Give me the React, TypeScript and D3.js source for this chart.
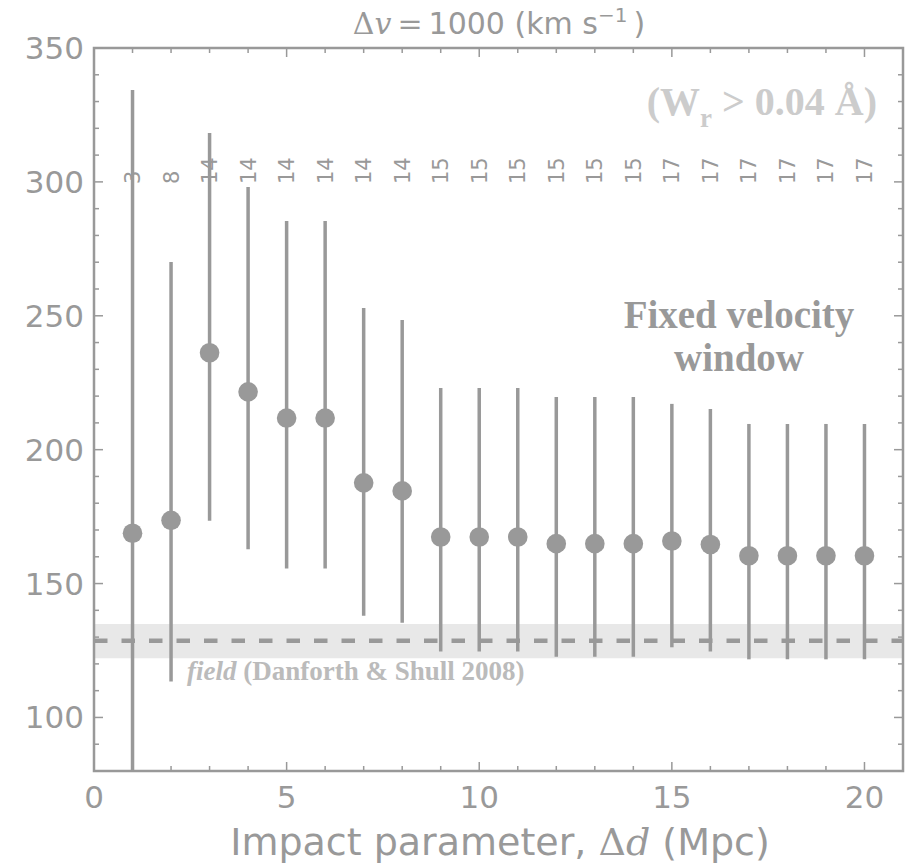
import React from "react";
import * as d3 from "d3";

const impactParam = [1, 2, 3, 4, 5, 6, 7, 8, 9, 10, 11, 12, 13, 14, 15, 16, 17, 18, 19, 20];
const meanValue = [168.8, 173.6, 236.2, 221.6, 211.8, 211.8, 187.6, 184.6, 167.4, 167.4, 167.4, 164.9, 164.9, 164.9, 165.9, 164.6, 160.4, 160.4, 160.4, 160.4];
const lowerValue = [40, 113.4, 173.5, 162.8, 155.6, 155.6, 138, 135.4, 124.6, 124.6, 124.6, 122.7, 122.7, 122.7, 126.2, 124.6, 121.7, 121.7, 121.7, 121.7];
const upperValue = [334.3, 270.1, 318.3, 298.1, 285.4, 285.4, 252.9, 248.4, 223.0, 223.0, 223.0, 219.7, 219.7, 219.7, 217.1, 215.2, 209.6, 209.6, 209.6, 209.6];
const countLabels = ["3", "8", "14", "14", "14", "14", "14", "14", "15", "15", "15", "15", "15", "15", "17", "17", "17", "17", "17", "17"];
const fieldMean = 128.6;
const fieldLow = 122.1;
const fieldHigh = 134.9;
const xTicks = [0, 5, 10, 15, 20];
const yTicks = [100, 150, 200, 250, 300, 350];

const L = 94, T = 48, R = 903, B = 771;
const GRAY = "#999999";

export default function App() {
  const x = d3.scaleLinear().domain([0, 21]).range([L, R]);
  const y = d3.scaleLinear().domain([80, 350]).range([B, T]);
  const xMinor = d3.range(0, 22, 1);
  const yMinor = d3.range(80, 351, 10);
  const sans = "'DejaVu Sans', sans-serif";
  const serif = "'Liberation Serif', 'Times New Roman', serif";

  return (
    <svg width={912} height={864} style={{ position: "absolute", left: 0, top: 0, background: "#fff" }}>
      <defs>
        <clipPath id="plotclip">
          <rect x={L} y={T} width={R - L} height={B - T} />
        </clipPath>
      </defs>
      <g clipPath="url(#plotclip)">
        <rect x={L} y={y(fieldHigh)} width={R - L} height={y(fieldLow) - y(fieldHigh)} fill="#e8e8e8" />
        <line x1={L} x2={R} y1={y(fieldMean)} y2={y(fieldMean)} stroke={GRAY} strokeWidth={4.5} strokeDasharray="13.5,14" />
        {impactParam.map((d, i) => (
          <line key={"e" + i} x1={x(d)} x2={x(d)} y1={y(lowerValue[i])} y2={y(upperValue[i])} stroke={GRAY} strokeWidth={3.5} />
        ))}
        {impactParam.map((d, i) => (
          <circle key={"c" + i} cx={x(d)} cy={y(meanValue[i])} r={9.8} fill={GRAY} />
        ))}
      </g>
      {impactParam.map((d, i) => (
        <text key={"n" + i} transform={`translate(${x(d) + 7.5},184) rotate(-90)`} fontFamily={sans} fontSize={21} fill={GRAY}>
          {countLabels[i]}
        </text>
      ))}
      {/* frame */}
      <rect x={L} y={T} width={R - L} height={B - T} fill="none" stroke={GRAY} strokeWidth={2.5} />
      {xMinor.map((v) => {
        const major = v % 5 === 0;
        const len = major ? 9 : 5;
        return (
          <g key={"xt" + v}>
            <line x1={x(v)} x2={x(v)} y1={B} y2={B - len} stroke={GRAY} strokeWidth={1.5} />
            <line x1={x(v)} x2={x(v)} y1={T} y2={T + len} stroke={GRAY} strokeWidth={1.5} />
          </g>
        );
      })}
      {yMinor.map((v) => {
        const major = v % 50 === 0;
        const len = major ? 9 : 5;
        return (
          <g key={"yt" + v}>
            <line x1={L} x2={L + len} y1={y(v)} y2={y(v)} stroke={GRAY} strokeWidth={1.5} />
            <line x1={R} x2={R - len} y1={y(v)} y2={y(v)} stroke={GRAY} strokeWidth={1.5} />
          </g>
        );
      })}
      {xTicks.map((v) => (
        <text key={"xl" + v} x={x(v)} y={808} textAnchor="middle" fontFamily={sans} fontSize={31} fill={GRAY}>
          {v}
        </text>
      ))}
      {yTicks.map((v) => (
        <text key={"yl" + v} x={84} y={y(v) + 11} textAnchor="end" fontFamily={sans} fontSize={31} fill={GRAY}>
          {v}
        </text>
      ))}
      {/* title */}
      <text x={499} y={34} textAnchor="middle" fontFamily={sans} fontSize={30} fill={GRAY}>
        <tspan fontFamily="'DejaVu Serif', serif">Δ</tspan>
        <tspan fontFamily="'DejaVu Serif', serif" fontStyle="italic">v</tspan>
        <tspan fontFamily="'DejaVu Serif', serif">{"\u2009=\u2009"}</tspan>
        <tspan>1000 (km s</tspan>
        <tspan dy={-12} fontSize={20}>−1</tspan>
        <tspan dy={12}>{"\u2009)"}</tspan>
      </text>
      {/* x label */}
      <text x={500} y={855} textAnchor="middle" fontFamily={sans} fontSize={38} fill={GRAY}>
        <tspan>Impact parameter, </tspan>
        <tspan fontFamily="'DejaVu Serif', serif">Δ</tspan>
        <tspan fontFamily="'DejaVu Serif', serif" fontStyle="italic">d</tspan>
        <tspan> (Mpc)</tspan>
      </text>
      {/* annotations */}
      <text x={877} y={115} textAnchor="end" fontFamily={serif} fontWeight="bold" fontSize={40} fill="#cccccc">
        <tspan>(W</tspan>
        <tspan dy={12} fontSize={27}>r</tspan>
        <tspan dy={-12}> &gt; 0.04 Å)</tspan>
      </text>
      <text x={739} y={328} textAnchor="middle" fontFamily={serif} fontWeight="bold" fontSize={39} fill={GRAY}>
        Fixed velocity
      </text>
      <text x={739} y={371} textAnchor="middle" fontFamily={serif} fontWeight="bold" fontSize={39} fill={GRAY}>
        window
      </text>
      <text x={187} y={680} fontFamily={serif} fontWeight="bold" fontSize={27} fill="#bbbbbb">
        <tspan fontStyle="italic">field</tspan>
        <tspan> (Danforth &amp; Shull 2008)</tspan>
      </text>
    </svg>
  );
}
